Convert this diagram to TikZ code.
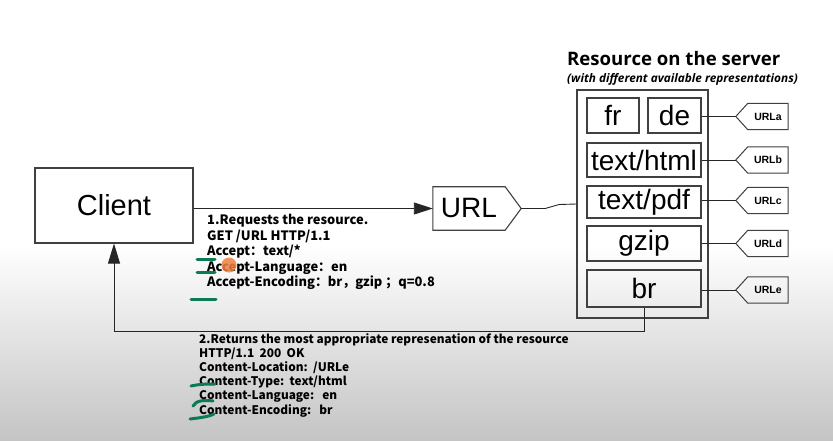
\documentclass[tikz,border=0pt]{standalone}
\usepackage{fontspec}
\setmainfont{Liberation Sans}
\newfontfamily\cjkfont{Noto Sans CJK SC}
\newfontfamily\titlefont{Open Sans}
\usetikzlibrary{arrows.meta,calc}
\definecolor{boxline}{HTML}{404040}
\definecolor{bgbot}{HTML}{C4C4C4}
\definecolor{penmark}{HTML}{0B7A55}
\definecolor{dotorange}{HTML}{F08040}
\begin{document}
\begin{tikzpicture}[x=1pt,y=-1pt,
 box/.style={draw=boxline, line width=1.1pt, inner sep=0pt, font=\fontsize{28}{30}\selectfont},
 rep/.style={box, minimum width=114pt},
 wire/.style={draw=black!85, line width=0.9pt},
 tagtext/.style={inner sep=0pt, minimum width=40pt, minimum height=26pt, font=\fontsize{10.5}{12}\selectfont\bfseries},
 tagline/.style={draw=boxline, line width=1pt},
 penstroke/.style={draw=penmark, line width=3pt, line cap=round},
 msg/.style={anchor=north west, align=left, inner sep=0pt, font=\cjkfont\bfseries\fontsize{12.9}{15.6}\selectfont}
]
\fill[white] (0,0) rectangle (833,441);
\shade[top color=white,bottom color=bgbot] (0,245) rectangle (833,441);
\useasboundingbox (0,0) rectangle (833,441);

% title
\node[anchor=base west, inner sep=0pt, font=\titlefont\bfseries\fontsize{18.6}{20}\selectfont] (title) at (567,66) {Resource on the server};
\node[anchor=base west, inner sep=0pt, font=\titlefont\bfseries\itshape\fontsize{11.8}{13}\selectfont] (subtitle) at (567,83) {(with different available representations)};

% client and URL
\node[box, minimum width=158pt, minimum height=75pt, font=\fontsize{29}{31}\selectfont] (client) at (114,205.5) {Client};
\node[inner sep=0pt, minimum width=72pt, minimum height=43pt, font=\fontsize{28}{30}\selectfont] (url) at (469,208.5) {URL};
\coordinate (urltip) at ($(url.east)+(16,0)$);
\draw[box] (url.north west) -- (url.north east) -- (urltip) -- (url.south east) -- (url.south west) -- cycle;

% server
\node[draw=boxline, line width=1.1pt, minimum width=131pt, minimum height=228pt, inner sep=0pt] (server) at (642.5,204) {};
\node[box, minimum width=52pt, minimum height=35pt] (fr) at (613,115.5) {fr};
\node[box, minimum width=53pt, minimum height=35pt] (de) at (674.5,115.5) {de};
\node[rep, minimum height=34pt] (html) at (644,160) {text/html};
\node[rep, minimum height=32pt] (pdf) at (644,202) {text/pdf};
\node[rep, minimum height=35pt] (gzip) at (644,243.5) {gzip};
\node[rep, minimum height=37pt] (br) at (644,288.5) {br};

% tags
\foreach \n/\yy/\src in {a/116.5/de, b/160/html, c/200.5/pdf, d/243.5/gzip, e/290/br}{
  \node[tagtext] (tag\n) at (768,\yy) {URL\n};
  \coordinate (tip\n) at ($(tag\n.west)+(-12,0)$);
  \draw[tagline] (tag\n.north west) -- (tag\n.north east) -- (tag\n.south east) -- (tag\n.south west) -- (tip\n) -- cycle;
  \draw[wire] (tip\n -| \src.east) -- (tip\n);
}

% connectors
\draw[wire, -{Triangle[length=19pt,width=12pt]}] (client.east |- url.west) -- (url.west);
\draw[wire] (urltip) -- ++(24,0) -- ++(14,-4) -- (server.west);
\draw[wire, -{Triangle[length=20pt,width=12pt]}] (br.south) |- ($(client.south)+(0,88)$) -- (client.south);

% messages
\node[msg] (req) at (207,214) {1.Requests the resource.\\GET /URL HTTP/1.1\\Accept：text/*\\Accept-Language：en\\Accept-Encoding：br，gzip ；q=0.8};
\node[msg, font=\cjkfont\bfseries\fontsize{11.85}{14.2}\selectfont] (resp) at (199,333) {2.Returns the most appropriate represenation of the resource\\HTTP/1.1\ \ 200\ \ OK\\Content-Location:\ \ /URLe\\Content-Type:\ \ text/html\\Content-Language:\ \ \ en\\Content-Encoding:\ \ \ br};

% hand annotations
\draw[penstroke] (197,259) -- (215,259);
\draw[penstroke] (197,272) -- (215,272);
\draw[penstroke] (191,299) -- (216,299);
\draw[penstroke] (191,386) .. controls (200,384) and (208,384) .. (215,384);
\draw[penstroke] (193,406) .. controls (196,400) and (205,400) .. (213,401);
\draw[penstroke] (190,419) .. controls (198,418) and (208,417) .. (214,414);
\fill[dotorange, opacity=0.85] (229,265) circle[radius=7.5pt];
\end{tikzpicture}
\end{document}
